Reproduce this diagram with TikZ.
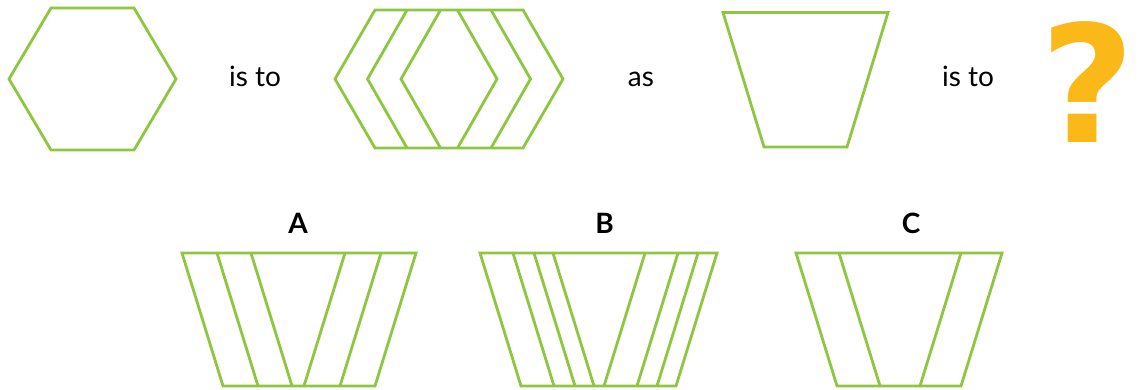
\documentclass[tikz,border=0pt]{standalone}
\usepackage{fontspec}
\setmainfont{Lato}
\newfontfamily\fuentesigno{DejaVu Sans}
\usepackage{tikz}
\definecolor{VerdeFigura}{RGB}{141,198,63}
\definecolor{NaranjaPregunta}{RGB}{250,184,25}
\tikzset{
  figura/.style={draw=VerdeFigura,line width=2.8pt,line join=miter},
  palabra/.style={inner sep=0pt,anchor=base,font=\fontsize{28}{33}\selectfont},
  letra/.style={inner sep=0pt,anchor=base,font=\fontsize{28}{33}\selectfont\bfseries}
}

\begin{document}
\begin{tikzpicture}[x=1pt,y=-1pt]
  \useasboundingbox[fill=white] (0,0) rectangle (1140,389);
  % primera fila: la analogia
  \draw[figura] (51,8)--(134,8)--(176,79)--(134,150)--(51,150)--(9,79)--cycle;
  \node[palabra] (esA1) at (255,86) {is to};
  \draw[figura] (375,10)--(523,10)--(563,79)--(523,148)--(375,148)--(335,79)--cycle;
  \foreach \t in {8.5,42}{
    \draw[figura] (449-\t,10)--(449-\t-39.5,79)--(449-\t,148);
    \draw[figura] (449+\t,10)--(449+\t+39.5,79)--(449+\t,148);
  }
  \node[palabra] (como) at (641,86) {as};
  \draw[figura] (723,12.5)--(888,12.5)--(847,147)--(764,147)--cycle;
  \node[palabra] (esA2) at (968,86) {is to};
  \node[inner sep=0pt,anchor=base,text=NaranjaPregunta,
        font=\fontsize{163}{163}\selectfont\fuentesigno\bfseries] (pregunta) at (1088,142) {?};
  % segunda fila: opciones
  \node[letra] (opcionA) at (298,233) {A};
  \draw[figura] (182,253)--(416,253)--(375,386)--(223,386)--cycle;
  \foreach \x in {217,251} \draw[figura] (\x,253)--(\x+41,386);
  \foreach \x in {345,381} \draw[figura] (\x,253)--(\x-41,386);
  \node[letra] (opcionB) at (604.5,233) {B};
  \draw[figura] (480,253)--(717,253)--(676,386)--(521,386)--cycle;
  \foreach \x in {513,534,553} \draw[figura] (\x,253)--(\x+41,386);
  \foreach \x in {645,678,698} \draw[figura] (\x,253)--(\x-41,386);
  \node[letra] (opcionC) at (911,233) {C};
  \draw[figura] (796,253)--(1002,253)--(961,386)--(837,386)--cycle;
  \draw[figura] (839,253)--(880,386);
  \draw[figura] (961,253)--(920,386);
\end{tikzpicture}
\end{document}
